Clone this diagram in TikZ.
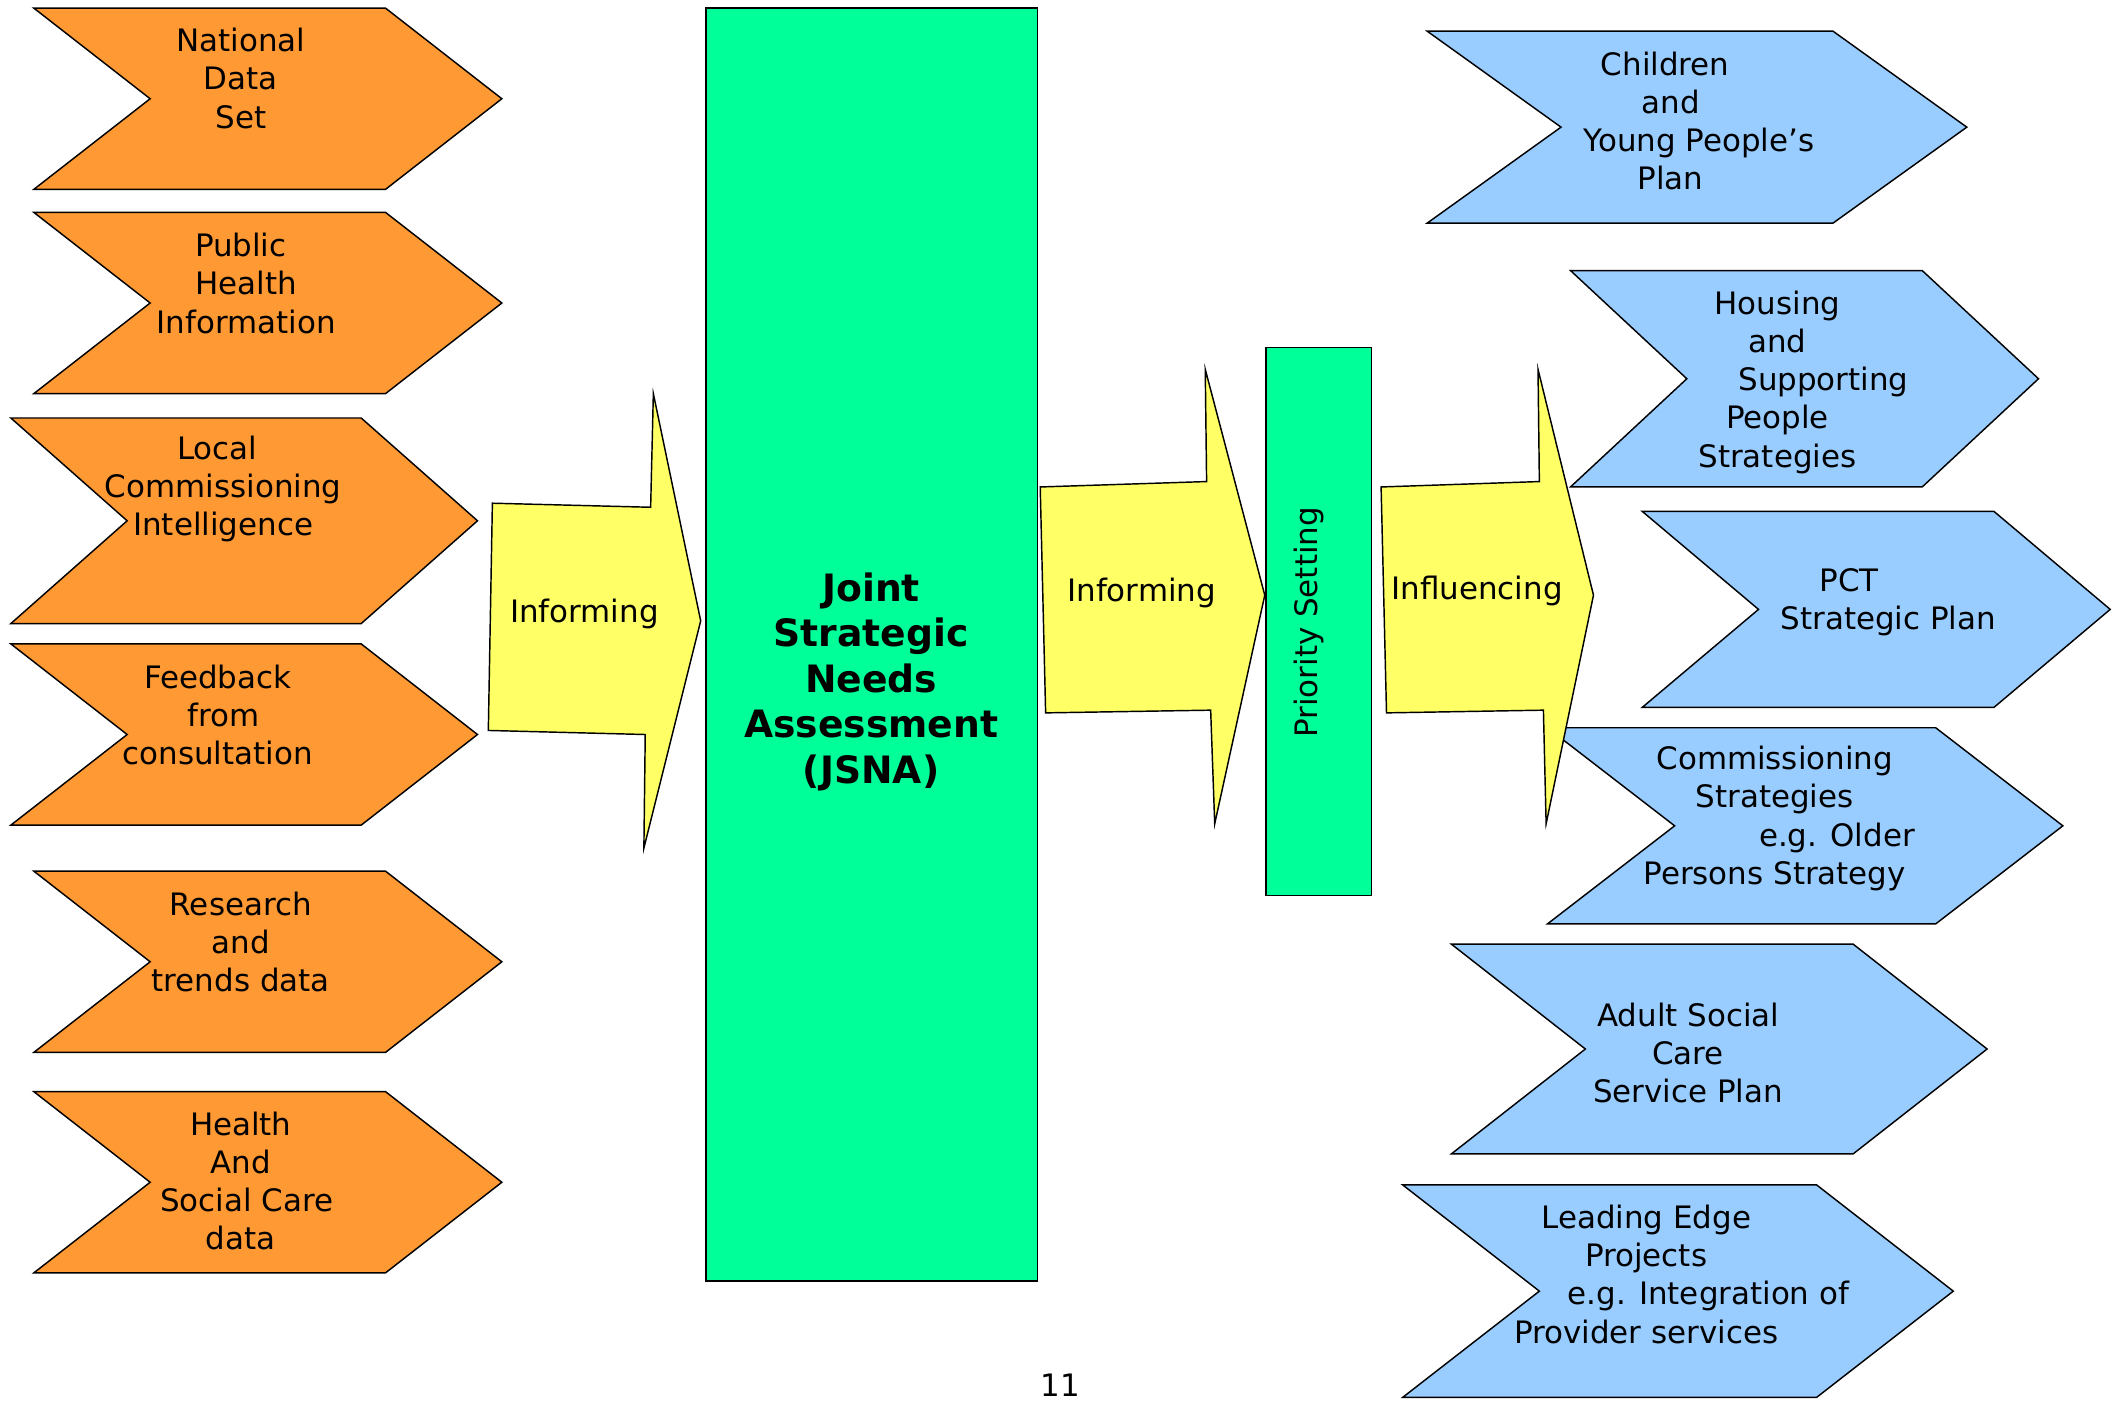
\documentclass[tikz,border=0pt]{standalone}
\usepackage{fontspec}
\setmainfont{DejaVu Sans}
\definecolor{orangec}{RGB}{255,153,51}
\definecolor{greenc}{RGB}{0,255,153}
\definecolor{yellowc}{RGB}{255,255,102}
\definecolor{bluec}{RGB}{153,204,255}
\newcommand\chev[6]{\path[#1] (#2,#3) -- (#4,#3) -- ({#4+#6},{(#3+#5)/2}) -- (#4,#5) -- (#2,#5) -- ({#2+#6},{(#3+#5)/2}) -- cycle;}
\newcommand\ml[2]{\makebox[0pt]{\hspace*{\dimexpr #1pt*14/10\relax}#2}}
\begin{document}
\begin{tikzpicture}[x=0.7pt,y=-0.7pt,
  outline/.style={draw=black,line width=0.75pt,line join=miter},
  orangeshape/.style={outline,fill=orangec},
  blueshape/.style={outline,fill=bluec},
  greenshape/.style={outline,fill=greenc},
  yellowshape/.style={outline,fill=yellowc},
  lbl/.style={align=center,inner sep=0pt,font=\fontsize{16}{19.8}\selectfont},
  biglbl/.style={align=center,inner sep=0pt,font=\fontsize{19.5}{23.5}\selectfont\bfseries}]
\useasboundingbox (0,0) rectangle (1568,1035);
\fill[white] (0,0) rectangle (1568,1035);
% orange chevrons
\chev{orangeshape}{25}{6}{285}{140}{86}
\chev{orangeshape}{25}{157}{285}{291}{86}
\chev{orangeshape}{8}{309}{267}{461}{86}
\chev{orangeshape}{8}{476}{267}{610}{86}
\chev{orangeshape}{25}{644}{285}{778}{86}
\chev{orangeshape}{25}{807}{285}{941}{86}
\node[lbl] (o1) at (178,58) {\ml{0}{National}\\\ml{0}{Data}\\\ml{0}{Set}};
\node[lbl] (o2) at (182,209.5) {\ml{-4}{Public}\\\ml{0}{Health}\\\ml{0}{Information}};
\node[lbl] (o3) at (165,361.5) {\ml{-4.5}{Local}\\\ml{0}{Commissioning}\\\ml{0}{Intelligence}};
\node[lbl] (o4) at (161,528.5) {\ml{0}{Feedback}\\\ml{4}{from}\\\ml{0}{consultation}};
\node[lbl] (o5) at (178,696.5) {\ml{0}{Research}\\\ml{0}{and}\\\ml{0}{trends data}};
\node[lbl] (o6) at (178,873) {\ml{0}{Health}\\\ml{0}{And}\\\ml{4.5}{Social Care}\\\ml{0}{data}};
% blue chevrons
\chev{blueshape}{1055}{23}{1355}{165}{99}
\chev{blueshape}{1161}{200}{1421}{360}{86}
\chev{blueshape}{1214}{378}{1474}{523}{86}
\chev{blueshape}{1144}{538}{1431}{683}{94}
\chev{blueshape}{1073}{698}{1370}{853}{99}
\chev{blueshape}{1037}{876}{1343}{1033}{101}
\node[lbl] (b1) at (1235,89.5) {\ml{-4}{Children}\\\ml{0}{and}\\\ml{21}{Young People's}\\\ml{0}{Plan}};
\node[lbl] (b2) at (1314,282.5) {\ml{0}{Housing}\\\ml{0}{and}\\\ml{34}{Supporting}\\\ml{0}{People}\\\ml{0}{Strategies}};
\node[lbl] (b3) at (1367,445) {\ml{0}{PCT}\\\ml{29}{Strategic Plan}};
\node[lbl] (b4) at (1312,605) {\ml{0}{Commissioning}\\\ml{0}{Strategies}\\\ml{46}{e.g. Older}\\\ml{0}{Persons Strategy}};
\node[lbl] (b5) at (1248,778.5) {\ml{0}{Adult Social}\\\ml{0}{Care}\\\ml{0}{Service Plan}};
\node[lbl] (b6) at (1217,942) {\ml{0}{Leading Edge}\\\ml{0}{Projects}\\\ml{46}{e.g. Integration of}\\\ml{0}{Provider services}};
% green boxes
\path[greenshape] (522,6) rectangle (767,947);
\node[biglbl] (jsna) at (644,504) {Joint\\Strategic\\Needs\\Assessment\\(JSNA)};
\path[greenshape] (936,257) rectangle (1014,662);
\node[lbl,rotate=90] (prio) at (968,460) {Priority Setting};
% yellow arrows
\path[yellowshape] (364,372) -- (481,375) -- (483,291) -- (518,459) -- (476,627) -- (477,543) -- (361,540) -- cycle;
\node[lbl] (inf1) at (432,454) {Informing};
\path[yellowshape] (769,360) -- (892,356) -- (891,273) -- (935,440) -- (898,609) -- (895,525) -- (773,527) -- cycle;
\node[lbl] (inf2) at (844,438) {Informing};
\path[yellowshape] (1021,360) -- (1138,356) -- (1137,273) -- (1178,440) -- (1143,609) -- (1141,525) -- (1025,527) -- cycle;
\node[lbl] (infl) at (1092,437) {Influencing};
% page number
\node[lbl] (pg) at (784,1024) {11};
\end{tikzpicture}
\end{document}
